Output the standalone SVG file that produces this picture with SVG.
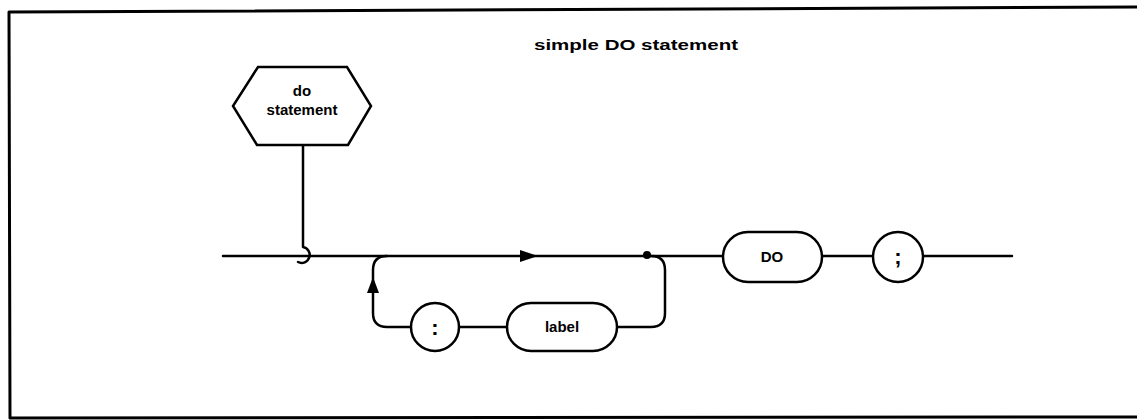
<svg xmlns="http://www.w3.org/2000/svg" width="1137" height="420" viewBox="0 0 1137 420">
<style>
.ln{fill:none;stroke:#000;stroke-width:2.5;stroke-linecap:round;stroke-linejoin:round}
.sh{fill:#fff;stroke:#000;stroke-width:2.5}
.t{font-family:"Liberation Sans",Arial,sans-serif;font-weight:bold;font-size:15px;fill:#000;text-anchor:middle}
.p{font-size:22px}
</style>
<rect width="1137" height="420" fill="#fff"/>
<path class="ln" d="M1140 7 L9 12 L10 418 L1140 417" style="stroke-width:3"/>
<text class="t" x="636" y="50" textLength="204" lengthAdjust="spacingAndGlyphs" style="font-size:14px">simple DO statement</text>
<g id="connectors">
<path class="ln" d="M223 256 L723 256"/>
<path class="ln" d="M822 256 L873 256"/>
<path class="ln" d="M923 256 L1012 256"/>
<path class="ln" d="M303 145 L303 247 A8 8 0 1 1 298 262"/>
<path class="ln" d="M387 256 Q373 256 373 270 L373 313 Q373 327 387 327 L411 327"/>
<path class="ln" d="M459 327 L507 327"/>
<path class="ln" d="M617 327 L651 327 Q665 327 665 313 L665 270 Q665 256 651 256"/>
<polygon points="373,277 367,293 379,293" fill="#000"/>
<polygon points="538,256 520,250 520,262" fill="#000"/>
<circle cx="647" cy="255" r="4" fill="#000"/>
</g>
<g id="do-statement">
<polygon class="sh" points="258,67 347,67 371,106 348,145 257,145 233,106"/>
<text class="t" x="302" y="96">do</text>
<text class="t" x="302" y="115">statement</text>
</g>
<g id="colon">
<circle class="sh" cx="435" cy="327" r="24"/>
<text class="t p" x="435" y="335">:</text>
</g>
<g id="label">
<rect class="sh" x="507" y="303" width="110" height="48" rx="24"/>
<text class="t" x="562" y="332">label</text>
</g>
<g id="do">
<rect class="sh" x="723" y="232" width="99" height="50" rx="25"/>
<text class="t" x="772" y="262">DO</text>
</g>
<g id="semicolon">
<circle class="sh" cx="898" cy="257" r="25"/>
<text class="t p" x="898" y="264">;</text>
</g>
</svg>
